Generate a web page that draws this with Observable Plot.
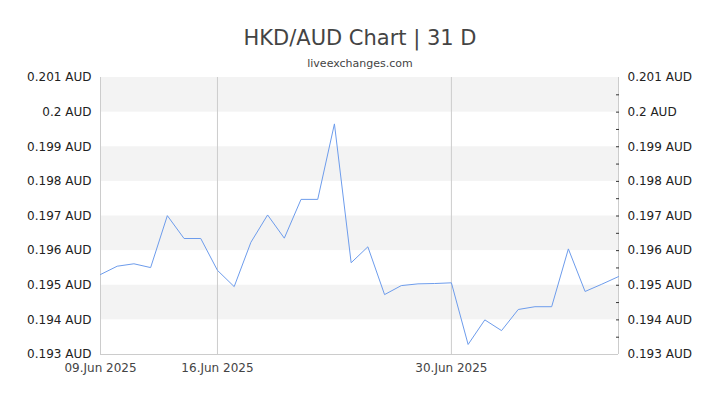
<!DOCTYPE html>
<html>
<head>
<meta charset="utf-8">
<script src="https://cdn.jsdelivr.net/npm/d3@7"></script>
<script src="https://cdn.jsdelivr.net/npm/@observablehq/plot@0.6"></script>
<style>
  html, body { margin: 0; padding: 0; background: #fff; }
  body { width: 720px; height: 405px; overflow: hidden; font-family: "DejaVu Sans", sans-serif; }
  #head { position: relative; height: 70px; }
  #title { position: absolute; left: 0; right: 0; top: 26px; text-align: center; font-size: 21px; line-height: 24px; color: #444; }
  #sub { position: absolute; left: 0; right: 0; top: 57px; text-align: center; font-size: 11px; line-height: 14px; color: #444; }
  svg { display: block; }
</style>
</head>
<body>
<div id="head">
  <div id="title">HKD/AUD Chart | 31 D</div>
  <div id="sub">liveexchanges.com</div>
</div>
<div id="chart"></div>
<script>
const dates = [
  "2025-06-09","2025-06-10","2025-06-11","2025-06-12","2025-06-13","2025-06-14","2025-06-15",
  "2025-06-16","2025-06-17","2025-06-18","2025-06-19","2025-06-20","2025-06-21","2025-06-22",
  "2025-06-23","2025-06-24","2025-06-25","2025-06-26","2025-06-27","2025-06-28","2025-06-29",
  "2025-06-30","2025-07-01","2025-07-02","2025-07-03","2025-07-04","2025-07-05","2025-07-06",
  "2025-07-07","2025-07-08","2025-07-09","2025-07-10"
];
const rates = [
  0.19531, 0.19555, 0.19562, 0.19551, 0.19701, 0.19635, 0.19635,
  0.19543, 0.19496, 0.19624, 0.19703, 0.19636, 0.19748, 0.19748,
  0.19966, 0.19565, 0.19611, 0.19473, 0.19499, 0.19504, 0.19505,
  0.19507, 0.19329, 0.19400, 0.19369, 0.19430, 0.19438, 0.19438,
  0.19605, 0.19482, 0.19503, 0.19525
];
const yTicks = [0.193, 0.194, 0.195, 0.196, 0.197, 0.198, 0.199, 0.200, 0.201];
const yMinorTicks = [0.1935, 0.194, 0.1945, 0.195, 0.1955, 0.196, 0.1965, 0.197, 0.1975, 0.198, 0.1985, 0.199, 0.1995, 0.200, 0.2005];
const bandStarts = [0.194, 0.196, 0.198, 0.200];
const xTickDates = ["2025-06-09", "2025-06-16", "2025-06-30"];
const gridDates = ["2025-06-16", "2025-06-30"];

const parse = d3.utcParse("%Y-%m-%d");
const data = dates.map((d, i) => ({date: parse(d), rate: rates[i]}));
const xDomain = [parse(dates[0]), parse(dates[dates.length - 1])];
const yFmt = d => `${+d.toFixed(3)} AUD`;
const xFmt = d3.utcFormat("%d.%b %Y");

const chart = Plot.plot({
  width: 720,
  height: 335,
  marginTop: 7,
  marginBottom: 51,
  marginLeft: 100,
  marginRight: 102,
  style: {fontFamily: "DejaVu Sans", fontSize: "12px", color: "#333", background: "#fff"},
  x: {type: "utc", domain: xDomain},
  y: {domain: [0.193, 0.201]},
  marks: [
    Plot.rect(bandStarts, {y1: d => d, y2: d => d + 0.001, fill: "#f3f3f3"}),
    Plot.ruleX(gridDates.map(parse), {stroke: "#ccc", strokeWidth: 1}),
    Plot.ruleX(xDomain, {stroke: "#ccc", strokeWidth: 1}),
    Plot.ruleY([0.193], {stroke: "#ccc", strokeWidth: 1}),
    Plot.line(data, {x: "date", y: "rate", stroke: "#6d9cec", strokeWidth: 1}),
    Plot.axisY(yTicks, {anchor: "left", tickSize: 0, tickPadding: 9, tickFormat: yFmt, fill: "#222", label: null, fontSize: 12}),
    Plot.axisY(yTicks, {anchor: "right", tickSize: 0, tickPadding: 9, tickFormat: yFmt, fill: "#222", label: null, fontSize: 12}),
    Plot.axisY(yMinorTicks, {anchor: "right", tickSize: 3, dx: -3, tickFormat: () => "", stroke: "#333", label: null}),
    Plot.axisX(xTickDates.map(parse), {anchor: "bottom", tickSize: 0, tickPadding: 9, tickFormat: xFmt, fill: "#444", label: null, fontSize: 12})
  ]
});
document.getElementById("chart").appendChild(chart);
</script>
</body>
</html>
